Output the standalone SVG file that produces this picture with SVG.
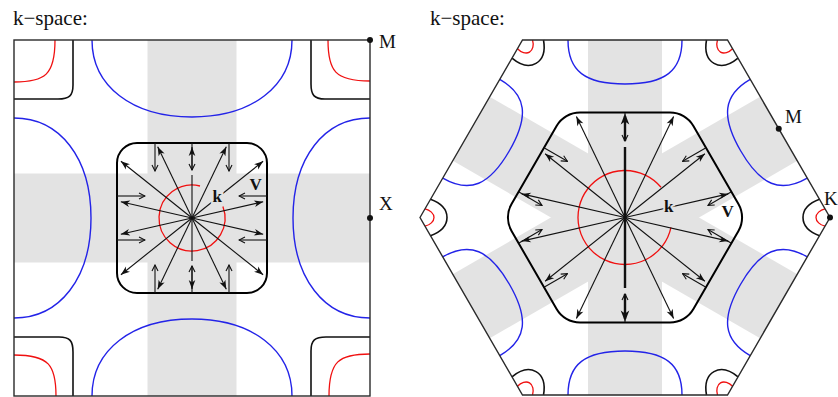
<svg xmlns="http://www.w3.org/2000/svg" xmlns:xlink="http://www.w3.org/1999/xlink" width="838" height="397" viewBox="0 0 838 397">
<style>
.lbl{font-family:"Liberation Serif","Times New Roman",serif;font-size:19px;fill:#111}
.ttl{font-family:"Liberation Serif","Times New Roman",serif;font-size:21px;fill:#111}
.bl{font-family:"Liberation Serif","Times New Roman",serif;font-size:17px;font-weight:bold;fill:#111}
.band{fill:#e3e3e3}
.frame{fill:none;stroke:#2a2a2a;stroke-width:1.4}
.fs{fill:none;stroke:#000;stroke-width:2}
.blue{fill:none;stroke:#2323e8;stroke-width:1.4}
.red{fill:none;stroke:#f01010;stroke-width:1.3}
.blk{fill:none;stroke:#111;stroke-width:1.6}
.k{fill:none;stroke:#111;stroke-width:1.1;marker-end:url(#ah)}
.kt{fill:none;stroke:#111;stroke-width:2.4}
.v{fill:none;stroke:#111;stroke-width:1.1;marker-end:url(#oh)}
</style>
<defs>
<marker id="ah" viewBox="-10 -5 11 10" refX="0" refY="0" markerWidth="11" markerHeight="10" markerUnits="userSpaceOnUse" orient="auto"><path d="M0,0 L-9,-3.3 L-6.5,0 L-9,3.3 Z" fill="#111"/></marker>
<marker id="ahb" viewBox="-13 -6 14 12" refX="-2.5" refY="0" markerWidth="14" markerHeight="12" markerUnits="userSpaceOnUse" orient="auto"><path d="M0,0 L-11,-4.3 L-8,0 L-11,4.3 Z" fill="#111"/></marker>
<marker id="oh" viewBox="-8 -5 9 10" refX="0" refY="0" markerWidth="9" markerHeight="10" markerUnits="userSpaceOnUse" orient="auto"><path d="M-6,-3 L0,0 L-6,3" fill="none" stroke="#111" stroke-width="1.1"/></marker>
<clipPath id="csq"><rect x="14" y="40" width="356" height="356"/></clipPath>
<clipPath id="chex"><polygon points="420,217.5 522.5,40 727.5,40 830,217.5 727.5,395 522.5,395"/></clipPath>
<path id="sqBlue" d="M92,40 C92,86 132,117 192,117 C252,117 292,86 292,40"/>
<path id="sqBlk" d="M73,40 L73,85 C73,96 69,99 58,99 L14,99"/>
<path id="sqRed" d="M55,40 C55,75 45,82 14,82"/>
<path id="hxBlue" d="M568,40 C568,71 585,84 625,84 C665,84 682,71 682,40"/>
<path id="hxBlk" d="M10.5,-18.2 C22,-14 27,-7 27,0 C27,7 22,14 10.5,18.2"/>
<path id="hxRed" d="M5,-8.7 C10,-7.5 14,-4 14,0 C14,4 10,7.5 5,8.7"/>
</defs>

<g id="square-panel">
  <text class="ttl" x="13" y="25">k−space:</text>
  <g id="sq-bands" clip-path="url(#csq)">
    <rect class="band" x="147.5" y="40" width="89" height="356"/>
    <rect class="band" x="14" y="173.5" width="356" height="89"/>
  </g>
  <g id="sq-outer-curves">
    <use href="#sqBlue" class="blue"/>
    <use href="#sqBlue" class="blue" transform="rotate(90 192 218)"/>
    <use href="#sqBlue" class="blue" transform="rotate(180 192 218)"/>
    <use href="#sqBlue" class="blue" transform="rotate(270 192 218)"/>
    <use href="#sqBlk" class="blk"/>
    <use href="#sqBlk" class="blk" transform="rotate(90 192 218)"/>
    <use href="#sqBlk" class="blk" transform="rotate(180 192 218)"/>
    <use href="#sqBlk" class="blk" transform="rotate(270 192 218)"/>
    <use href="#sqRed" class="red"/>
    <use href="#sqRed" class="red" transform="rotate(90 192 218)"/>
    <use href="#sqRed" class="red" transform="rotate(180 192 218)"/>
    <use href="#sqRed" class="red" transform="rotate(270 192 218)"/>
  </g>
  <rect id="sq-frame" class="frame" x="14" y="40" width="356" height="356"/>
  <rect id="sq-fermi" class="fs" x="117" y="143" width="150" height="150" rx="20" ry="20"/>
  <path id="sq-circle" class="red" d="M222.9,206.4 A33,33 0 1 1 200,186"/>
  <g id="sq-k-rays">
    <line class="k" x1="192" y1="218" x2="157.7" y2="146.8"/>
    <line class="k" x1="192" y1="218" x2="120.9" y2="161.3"/>
    <line class="k" x1="192" y1="218" x2="120.8" y2="201.8"/>
    <line class="k" x1="192" y1="218" x2="120.8" y2="234.2"/>
    <line class="k" x1="192" y1="218" x2="120.9" y2="274.7"/>
    <line class="k" x1="192" y1="218" x2="157.7" y2="289.2"/>
    <line class="k" x1="192" y1="218" x2="226.3" y2="289.2"/>
    <line class="k" x1="192" y1="218" x2="263.1" y2="274.7"/>
    <line class="k" x1="192" y1="218" x2="263.2" y2="234.2"/>
    <line class="k" x1="192" y1="218" x2="263.2" y2="201.8"/>
    <line class="k" x1="192" y1="218" x2="263.1" y2="161.3"/>
    <line class="k" x1="192" y1="218" x2="226.3" y2="146.8"/>
    <line x1="192" y1="218" x2="192" y2="175" stroke="#111" stroke-width="1.1"/>
    <line class="k" x1="192" y1="170" x2="192" y2="147"/>
    <line x1="192" y1="218" x2="192" y2="261" stroke="#111" stroke-width="1.1"/>
    <line class="k" x1="192" y1="266" x2="192" y2="289"/>
  </g>
  <g id="sq-v-arrows">
    <line class="v" x1="192" y1="143" x2="192" y2="170"/>
    <line class="v" x1="192" y1="293" x2="192" y2="266"/>
    <line class="v" x1="155" y1="143" x2="155" y2="171"/>
    <line class="v" x1="229" y1="143" x2="229" y2="171"/>
    <line class="v" x1="155" y1="293" x2="155" y2="265"/>
    <line class="v" x1="229" y1="293" x2="229" y2="265"/>
    <line class="v" x1="267" y1="196" x2="239" y2="196"/>
    <line class="v" x1="267" y1="240" x2="239" y2="240"/>
    <line class="v" x1="117" y1="196" x2="145" y2="196"/>
    <line class="v" x1="117" y1="240" x2="145" y2="240"/>
  </g>
  <text class="bl" x="212.5" y="201.5" stroke="#e3e3e3" stroke-width="4" paint-order="stroke">k</text>
  <text class="bl" x="249.5" y="190">V</text>
  <g id="sq-points">
    <circle cx="370" cy="40" r="3" fill="#111"/>
    <circle cx="370" cy="218" r="3" fill="#111"/>
    <text class="lbl" x="379" y="48">M</text>
    <text class="lbl" x="379" y="210">X</text>
  </g>
</g>

<g id="hex-panel">
  <text class="ttl" x="430" y="25">k−space:</text>
  <g id="hx-bands" clip-path="url(#chex)">
    <rect class="band" x="588" y="-20" width="74" height="475"/>
    <rect class="band" x="588" y="-20" width="74" height="475" transform="rotate(60 625 217.5)"/>
    <rect class="band" x="588" y="-20" width="74" height="475" transform="rotate(-60 625 217.5)"/>
  </g>
  <g id="hx-outer-curves">
    <use href="#hxBlue" class="blue"/>
    <use href="#hxBlue" class="blue" transform="rotate(60 625 217.5)"/>
    <use href="#hxBlue" class="blue" transform="rotate(120 625 217.5)"/>
    <use href="#hxBlue" class="blue" transform="rotate(180 625 217.5)"/>
    <use href="#hxBlue" class="blue" transform="rotate(240 625 217.5)"/>
    <use href="#hxBlue" class="blue" transform="rotate(300 625 217.5)"/>
    <g transform="translate(420 217.5)"><use href="#hxBlk" class="blk"/><use href="#hxRed" class="red"/></g>
    <g transform="translate(522.5 40) rotate(60)"><use href="#hxBlk" class="blk"/><use href="#hxRed" class="red"/></g>
    <g transform="translate(727.5 40) rotate(120)"><use href="#hxBlk" class="blk"/><use href="#hxRed" class="red"/></g>
    <g transform="translate(830 217.5) rotate(180)"><use href="#hxBlk" class="blk"/><use href="#hxRed" class="red"/></g>
    <g transform="translate(727.5 395) rotate(240)"><use href="#hxBlk" class="blk"/><use href="#hxRed" class="red"/></g>
    <g transform="translate(522.5 395) rotate(300)"><use href="#hxBlk" class="blk"/><use href="#hxRed" class="red"/></g>
  </g>
  <polygon id="hx-frame" class="frame" points="420,217.5 522.5,40 727.5,40 830,217.5 727.5,395 522.5,395"/>
  <path id="hx-fermi" class="fs" d="M579.97,112.5 L670.03,112.5 A27,27 0 0 1 693.41,126 L738.45,204 A27,27 0 0 1 738.45,231 L693.41,309 A27,27 0 0 1 670.03,322.5 L579.97,322.5 A27,27 0 0 1 556.59,309 L511.55,231 A27,27 0 0 1 511.55,204 L556.59,126 A27,27 0 0 1 579.97,112.5 Z"/>
  <path id="hx-circle" class="red" d="M670.97,227.27 A47,47 0 1 1 661,187.29"/>
  <g id="hx-k-rays">
    <line class="k" x1="625" y1="217.5" x2="576.4" y2="116.6"/>
    <line class="k" x1="625" y1="217.5" x2="545.1" y2="153.8"/>
    <line class="k" x1="625" y1="217.5" x2="521.8" y2="193.9"/>
    <line class="k" x1="625" y1="217.5" x2="521.8" y2="241.1"/>
    <line class="k" x1="625" y1="217.5" x2="545.1" y2="281.2"/>
    <line class="k" x1="625" y1="217.5" x2="576.4" y2="318.4"/>
    <line class="k" x1="625" y1="217.5" x2="673.6" y2="318.4"/>
    <line class="k" x1="625" y1="217.5" x2="704.9" y2="281.2"/>
    <line class="k" x1="625" y1="217.5" x2="728.2" y2="241.1"/>
    <line class="k" x1="625" y1="217.5" x2="728.2" y2="193.9"/>
    <line class="k" x1="625" y1="217.5" x2="704.9" y2="153.8"/>
    <line class="k" x1="625" y1="217.5" x2="673.6" y2="116.6"/>
    <line class="kt" x1="625" y1="217.5" x2="625" y2="147"/>
    <line class="kt" x1="625" y1="141" x2="625" y2="116" marker-end="url(#ahb)"/>
    <line class="kt" x1="625" y1="217.5" x2="625" y2="288"/>
    <line class="kt" x1="625" y1="294" x2="625" y2="319" marker-end="url(#ahb)"/>
  </g>
  <g id="hx-v-arrows">
    <line class="v" x1="625" y1="113" x2="625" y2="141"/>
    <line class="v" x1="625" y1="322" x2="625" y2="294"/>
    <line class="v" x1="544" y1="147.8" x2="567.4" y2="161.3"/>
    <line class="v" x1="519" y1="192" x2="542" y2="205.5"/>
    <line class="v" x1="519" y1="243" x2="542" y2="229.5"/>
    <line class="v" x1="544" y1="287.2" x2="567.4" y2="273.7"/>
    <line class="v" x1="706" y1="147.8" x2="682.6" y2="161.3"/>
    <line class="v" x1="731" y1="192" x2="708" y2="205.5"/>
    <line class="v" x1="731" y1="243" x2="708" y2="229.5"/>
    <line class="v" x1="706" y1="287.2" x2="682.6" y2="273.7"/>
  </g>
  <text class="bl" x="664" y="211.5" stroke="#e3e3e3" stroke-width="4" paint-order="stroke">k</text>
  <text class="bl" x="721.5" y="217.3">V</text>
  <g id="hx-points">
    <circle cx="778.75" cy="128.75" r="3" fill="#111"/>
    <circle cx="830" cy="217.5" r="3" fill="#111"/>
    <text class="lbl" x="785" y="123">M</text>
    <text class="lbl" x="824" y="205" font-size="17">K</text>
  </g>
</g>
</svg>
